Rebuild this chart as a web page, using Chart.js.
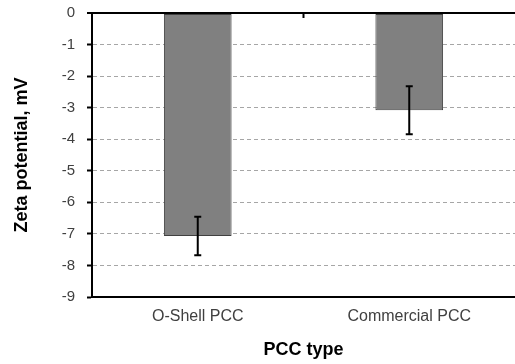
<!DOCTYPE html>
<html>
<head>
<meta charset="utf-8">
<script src="https://cdn.jsdelivr.net/npm/chart.js@4.4.0/dist/chart.umd.min.js"></script>
<style>
  html, body { margin: 0; padding: 0; background: #fff; }
  #wrap { width: 515px; height: 364px; }
</style>
</head>
<body>
<div id="wrap"><canvas id="chart" width="515" height="364"></canvas></div>
<script>
// values
const categories = ['O-Shell PCC', 'Commercial PCC'];
const zetaValues = [-7.07, -3.08];
const zetaErrors = [0.61, 0.76];
const yTicks = [0, -1, -2, -3, -4, -5, -6, -7, -8, -9];

// error bars + small tick on the zero line between the categories
const errorBarPlugin = {
    id: 'errorBars',
    afterDatasetsDraw(chart) {
        const ctx = chart.ctx;
        const x = chart.scales.x;
        const y = chart.scales.y;
        ctx.save();
        ctx.strokeStyle = '#000';
        ctx.lineWidth = 2;
        zetaValues.forEach((v, i) => {
            const px = x.getPixelForValue(i);
            const top = y.getPixelForValue(v + zetaErrors[i]);
            const bot = y.getPixelForValue(v - zetaErrors[i]);
            ctx.beginPath();
            ctx.moveTo(px, top);
            ctx.lineTo(px, bot);
            ctx.moveTo(px - 3.5, top);
            ctx.lineTo(px + 3.5, top);
            ctx.moveTo(px - 3.5, bot);
            ctx.lineTo(px + 3.5, bot);
            ctx.stroke();
        });
        // category divider tick at the top axis
        const mid = (x.getPixelForValue(0) + x.getPixelForValue(1)) / 2;
        const y0 = y.getPixelForValue(0);
        ctx.beginPath();
        ctx.moveTo(mid, y0);
        ctx.lineTo(mid, y0 + 5);
        ctx.stroke();
        ctx.restore();
    }
};

new Chart(document.getElementById('chart').getContext('2d'), {
    type: 'bar',
    data: {
        labels: categories,
        datasets: [{
            data: zetaValues,
            backgroundColor: '#808080',
            borderColor: '#404040',
            borderWidth: 1,
            borderSkipped: false,
            barPercentage: 0.32,
            categoryPercentage: 1
        }]
    },
    options: {
        responsive: false,
        animation: false,
        layout: { padding: { top: 13, right: 0, left: 0, bottom: 0 } },
        plugins: {
            legend: { display: false },
            tooltip: { enabled: false }
        },
        scales: {
            x: {
                grid: { display: false, drawTicks: false },
                border: { display: true, color: '#000', width: 2 },
                ticks: {
                    color: '#404040',
                    padding: 10,
                    font: { family: 'Liberation Sans', size: 16 }
                },
                title: {
                    display: true,
                    text: 'PCC type',
                    color: '#000',
                    padding: { top: 8, bottom: 3 },
                    font: { family: 'Liberation Sans', size: 18, weight: 'bold' }
                },
                afterFit(scale) { scale.height = 67; }
            },
            y: {
                min: -9,
                max: 0,
                afterBuildTicks(scale) {
                    scale.ticks = yTicks.map(v => ({ value: v }));
                },
                grid: {
                    color: c => (c.tick && c.tick.value === 0) ? '#000' : '#a6a6a6',
                    lineWidth: c => (c.tick && c.tick.value === 0) ? 2 : 1,
                    tickColor: '#000',
                    tickWidth: 2,
                    tickLength: 5,
                    tickBorderDash: []
                },
                border: {
                    display: true,
                    color: '#000',
                    width: 2,
                    dash: c => (c.tick && c.tick.value === 0) ? [] : [4, 3]
                },
                ticks: {
                    color: '#404040',
                    padding: 12,
                    font: { family: 'Liberation Sans', size: 15 },
                    callback: v => String(v)
                },
                title: {
                    display: true,
                    text: 'Zeta potential, mV',
                    color: '#000',
                    padding: { top: 11, bottom: 4 },
                    font: { family: 'Liberation Sans', size: 18, weight: 'bold' }
                },
                afterFit(scale) {
                    scale.width = 92;
                    scale.paddingTop = 0;
                    scale.paddingBottom = 0;
                }
            }
        }
    },
    plugins: [errorBarPlugin]
});
</script>
</body>
</html>
